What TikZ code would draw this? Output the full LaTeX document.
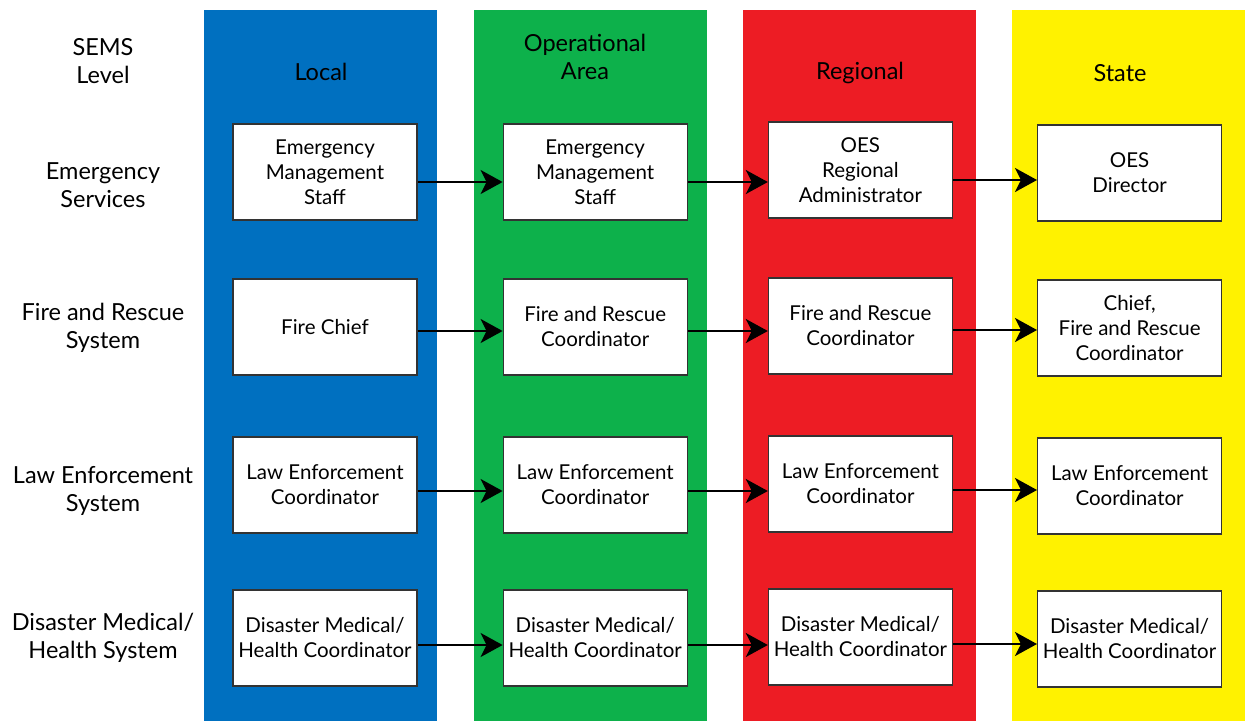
\documentclass[tikz,border=0pt]{standalone}
\usepackage{fontspec}
\setmainfont{Lato}
\usepackage{tikz}
\usetikzlibrary{arrows.meta, positioning}

\definecolor{localblue}{RGB}{0,112,192}
\definecolor{opgreen}{RGB}{13,177,75}
\definecolor{regred}{RGB}{237,28,36}
\definecolor{stateyellow}{RGB}{255,242,0}

\begin{document}
\begin{tikzpicture}[x=1pt, y=-1pt,
    column/.style={fill=#1, draw=none},
    post/.style={rectangle, draw=black!80, line width=1.2pt, fill=white, minimum width=184pt, minimum height=96pt, align=center, inner sep=2pt, font=\fontsize{20.5}{25}\selectfont},
    head/.style={align=center, font=\fontsize{23.5}{28}\selectfont},
    link/.style={-{Stealth[length=22pt, width=24pt, inset=6pt]}, line width=2pt}]
        \useasboundingbox (0,0) rectangle (1245,721);

        % columns
        \fill [column=localblue] (204,10) rectangle (437,721);
        \fill [column=opgreen] (474,10) rectangle (707,721);
        \fill [column=regred] (743,10) rectangle (976,721);
        \fill [column=stateyellow] (1012,10) rectangle (1245,721);

        % headings
        \node (sems) [head] at (103,61) {SEMS\\Level};
        \node (local) [head] at (321,72) {Local};
        \node (oparea) [head] at (585,57) {Operational\\Area};
        \node (regional) [head] at (860,73) {Regional};
        \node (state) [head] at (1120,73) {State};

        \node (ems) [head] at (103,185) {Emergency\\Services};
        \node (fire) [head] at (103,328) {Fire and Rescue\\System};
        \node (law) [head] at (103,491) {Law Enforcement\\System};
        \node (med) [head] at (103,638) {Disaster Medical/\\Health System};

        % emergency services
        \node (loc1) [post] at (325,172) {Emergency\\Management\\Staff};
        \node (op1) [post, right=85pt of loc1] {Emergency\\Management\\Staff};
        \node (reg1) [post, right=80pt of op1, yshift=2pt] {OES\\Regional\\Administrator};
        \node (sta1) [post, right=84pt of reg1, yshift=-3pt] {OES\\Director};

        % fire and rescue
        \node (loc2) [post] at (325,327) {Fire Chief};
        \node (op2) [post, right=85pt of loc2] {Fire and Rescue\\Coordinator};
        \node (reg2) [post, right=80pt of op2, yshift=1pt] {Fire and Rescue\\Coordinator};
        \node (sta2) [post, right=84pt of reg2, yshift=-2pt] {Chief,\\Fire and Rescue\\Coordinator};

        % law enforcement
        \node (loc3) [post] at (325,485) {Law Enforcement\\Coordinator};
        \node (op3) [post, right=85pt of loc3] {Law Enforcement\\Coordinator};
        \node (reg3) [post, right=80pt of op3, yshift=1pt] {Law Enforcement\\Coordinator};
        \node (sta3) [post, right=84pt of reg3, yshift=-2pt] {Law Enforcement\\Coordinator};

        % disaster medical
        \node (loc4) [post] at (325,638) {Disaster Medical/\\Health Coordinator};
        \node (op4) [post, right=85pt of loc4] {Disaster Medical/\\Health Coordinator};
        \node (reg4) [post, right=80pt of op4, yshift=1pt] {Disaster Medical/\\Health Coordinator};
        \node (sta4) [post, right=84pt of reg4, yshift=-2pt] {Disaster Medical/\\Health Coordinator};

        \draw [link] ([yshift=-10pt]loc1.east) -- ([yshift=-10pt]op1.west);
        \draw [link] ([yshift=-10pt]op1.east) -- ([yshift=-10pt]op1.east -| reg1.west);
        \draw [link] ([yshift=-10pt]reg1.east) -- ([yshift=-10pt]reg1.east -| sta1.west);
        \draw [link] ([yshift=-4pt]loc2.east) -- ([yshift=-4pt]op2.west);
        \draw [link] ([yshift=-4pt]op2.east) -- ([yshift=-4pt]op2.east -| reg2.west);
        \draw [link] ([yshift=-4pt]reg2.east) -- ([yshift=-4pt]reg2.east -| sta2.west);
        \draw [link] ([yshift=-6pt]loc3.east) -- ([yshift=-6pt]op3.west);
        \draw [link] ([yshift=-6pt]op3.east) -- ([yshift=-6pt]op3.east -| reg3.west);
        \draw [link] ([yshift=-6pt]reg3.east) -- ([yshift=-6pt]reg3.east -| sta3.west);
        \draw [link] ([yshift=-7pt]loc4.east) -- ([yshift=-7pt]op4.west);
        \draw [link] ([yshift=-7pt]op4.east) -- ([yshift=-7pt]op4.east -| reg4.west);
        \draw [link] ([yshift=-7pt]reg4.east) -- ([yshift=-7pt]reg4.east -| sta4.west);
\end{tikzpicture}
\end{document}
